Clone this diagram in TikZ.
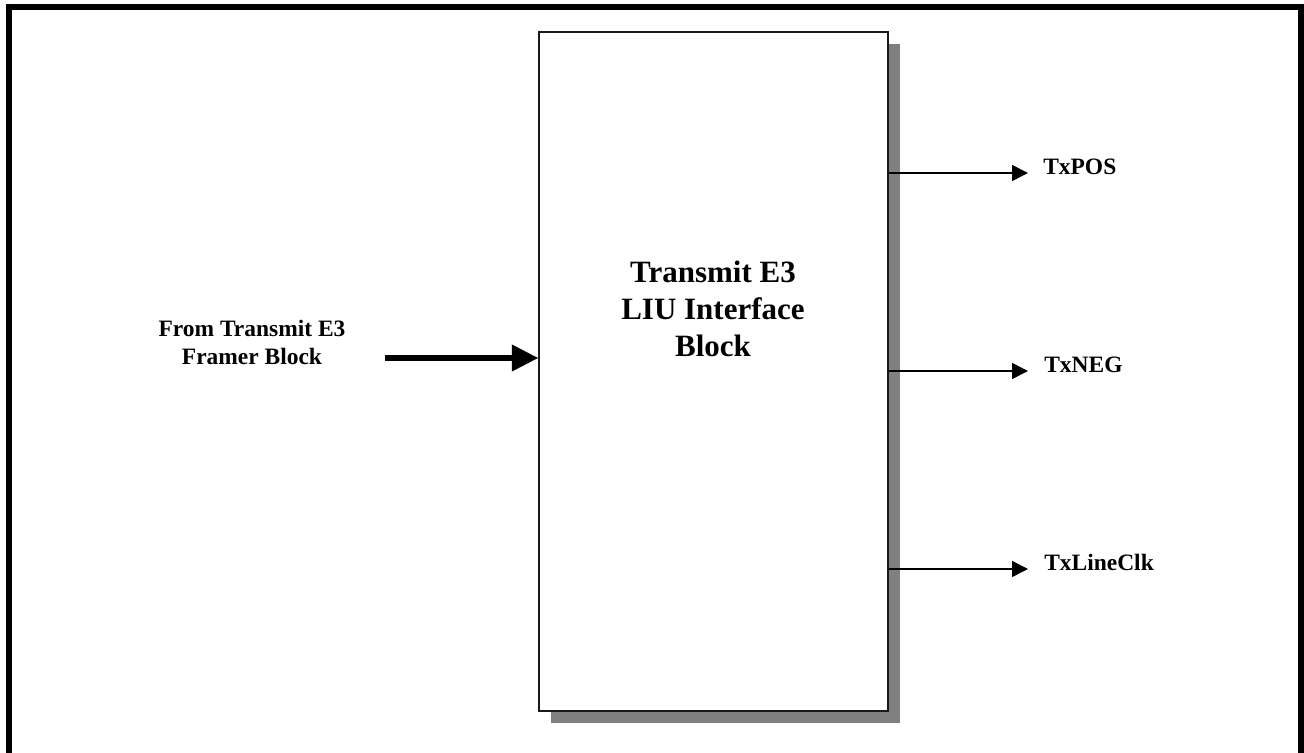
\documentclass[tikz,border=0pt]{standalone}
\usepackage{fontspec}
\setmainfont{Liberation Serif}
\usetikzlibrary{arrows.meta,shadows}
\definecolor{shadowgray}{RGB}{128,128,128}
\tikzset{
  frameline/.style={line width=4.5pt},
  blockbox/.style={draw=black!90, line width=1.5pt, fill=white, inner sep=0pt,
    minimum width=261.2pt, minimum height=509.3pt,
    general shadow={shadow xshift=9pt, shadow yshift=-9pt, fill=shadowgray}},
  bigtext/.style={font=\bfseries\fontsize{23.25pt}{27.8pt}\selectfont, align=center, inner sep=0pt},
  lbl/.style={font=\bfseries\fontsize{17.6pt}{20.8pt}\selectfont, align=center, inner sep=0pt},
  inarrow/.style={line width=4.5pt, -{Triangle[length=20pt,width=19pt]}},
  outarrow/.style={line width=1.1pt, -{Triangle[length=12pt,width=12pt]}},
}
\begin{document}
\begin{tikzpicture}[x=0.75pt,y=-0.75pt]
\useasboundingbox (0,0) rectangle (1304,753);
% outer frame (open at the bottom)
\draw[frameline] (9,760) -- (9,7) -- (1301,7) -- (1301,760);
% main block
\node[blockbox] (blk) at (713.6,371.5) {};
\node[bigtext] (blktext) at (713,308.5) {Transmit E3\\LIU Interface\\Block};
% input
\node[lbl] (from) at (252,342.5) {From Transmit E3\\Framer Block};
\coordinate (instart) at (385,358);
\draw[inarrow] (instart) -- (blk.west |- instart);
% outputs
\coordinate (p1) at (1028,173);
\coordinate (p2) at (1028,371);
\coordinate (p3) at (1028,569);
\draw[outarrow] (blk.east |- p1) -- (p1);
\draw[outarrow] (blk.east |- p2) -- (p2);
\draw[outarrow] (blk.east |- p3) -- (p3);
\node[lbl, anchor=base west] (txpos) at (1043,174.3) {TxPOS};
\node[lbl, anchor=base west] (txneg) at (1044,372.3) {TxNEG};
\node[lbl, anchor=base west] (txclk) at (1044,570.7) {TxLineClk};
\end{tikzpicture}
\end{document}
